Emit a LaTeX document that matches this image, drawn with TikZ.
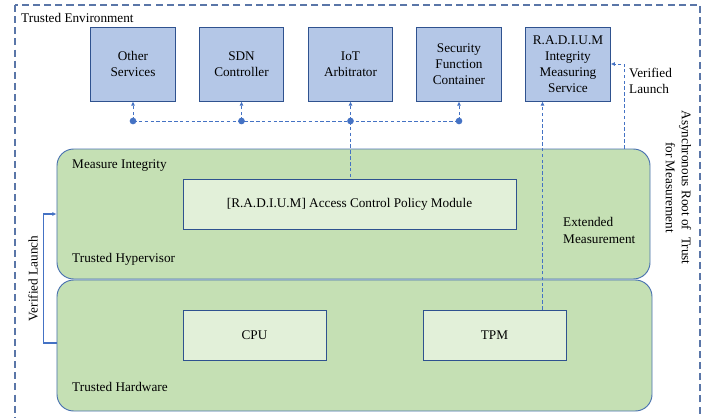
\documentclass[tikz,border=0pt]{standalone}
\usepackage{fontspec}
\setmainfont{Liberation Serif}
\usetikzlibrary{arrows.meta,calc}

\definecolor{svcfill}{HTML}{B4C7E7}
\definecolor{boxline}{HTML}{2F528F}
\definecolor{layerfill}{HTML}{C5E0B4}
\definecolor{layerline}{HTML}{4A72B0}
\definecolor{modfill}{HTML}{E2F0D9}
\definecolor{linkblue}{HTML}{4472C4}
\definecolor{envline}{HTML}{5A76A8}

\begin{document}
\begin{tikzpicture}[x=0.03cm,y=-0.03cm,
    font=\fontsize{11.3}{13.8}\selectfont,
    svc/.style={draw=boxline,fill=svcfill,line width=0.8pt,inner sep=0pt,
      minimum width=2.54cm,minimum height=2.22cm,align=center},
    layer/.style={draw=layerline,fill=layerfill,line width=0.8pt,rounded corners=0.5cm,
      inner sep=0pt},
    module/.style={draw=boxline,fill=modfill,line width=0.8pt,inner sep=0pt,
      minimum height=1.5cm},
    lbl/.style={inner sep=0pt,anchor=west},
    link/.style={draw=linkblue,line width=0.7pt,dash pattern=on 3pt off 2pt},
    linkarrow/.style={link,-{Latex[length=3.5pt,width=3.5pt]}},
    launcharrow/.style={draw=linkblue,line width=0.9pt,-{Latex[length=3.5pt,width=3.5pt]}}]
\clip (0,0) rectangle (704,417);
\draw[envline,line width=0.9pt,dash pattern=on 6pt off 3.5pt] (15,5) rectangle (700,440);
\node[lbl] (TE) at (21,17.5) {Trusted Environment};

\node[svc] (OS)   at (133,64)   {Other\\Services};
\node[svc] (SDN)  at (241.5,64) {SDN\\Controller};
\node[svc] (IoT)  at (350.5,64) {IoT\\Arbitrator};
\node[svc] (SFC)  at (459,64)   {Security\\Function\\Container};
\node[svc] (RIMS) at (568,64)   {R.A.D.I.U.M\\Integrity\\Measuring\\Service};

\node[layer,minimum width=17.79cm,minimum height=3.9cm] (TH) at (353.5,214) {};
\node[layer,minimum width=17.85cm,minimum height=3.93cm] (HW) at (354.5,345.5) {};

\node[module,minimum width=9.99cm] (ACPM) at (349.5,204) {[R.A.D.I.U.M] Access Control Policy Module};
\node[module,minimum width=4.29cm] (CPU) at (254.5,335) {CPU};
\node[module,minimum width=4.29cm] (TPM) at (494.5,335) {TPM};

\node[lbl] (MI)  at (72,166) {Measure Integrity};
\node[lbl] (THL) at (72,259) {Trusted Hypervisor};
\node[lbl] (HWL) at (72,387) {Trusted Hardware};
\node[lbl,align=left] (EM) at (563,230.5) {Extended\\Measurement};
\node[lbl,align=left] (VLR) at (629,81) {Verified\\Launch};
\node[rotate=90,inner sep=0pt] (VLL) at (33,278.5) {Verified Launch};
\node[rotate=-90,inner sep=0pt,align=center] (ART) at (678.5,187.5)
  {Asynchronous Root of\ \ Trust\\for Measurement};

\coordinate (bus) at (0,121);
\draw[link] (OS.south |- bus) -- (SFC.south |- bus);
\foreach \n in {OS,SDN,IoT,SFC} {
  \fill[linkblue] (\n.south |- bus) circle (0.1cm);
  \draw[linkarrow] (\n.south |- bus) -- (\n.south);
}
\draw[link] (IoT.south |- bus) -- (IoT.south |- ACPM.north);

\coordinate (tpmup) at ($(TPM.north)+(48,0)$);
\draw[linkarrow] (tpmup) -- (tpmup |- RIMS.south);
\draw[linkarrow] ($(TH.north)+(271,0)$) |- (RIMS.east);
\draw[launcharrow] ($(HW.west)+(0,-2.5)$) -- ++(-13,0) |- (TH.west);

\end{tikzpicture}
\end{document}
